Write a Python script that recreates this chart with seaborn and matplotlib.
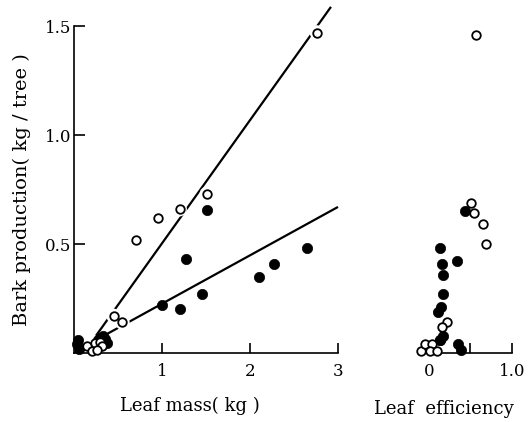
import numpy as np
import pandas as pd
import matplotlib
matplotlib.use("Agg")
import matplotlib.pyplot as plt
import seaborn as sns

# ---- data ----
# Left panel: leaf mass (kg) vs bark production (kg/tree)
open_mass = [2.76, 1.51, 1.20, 0.96, 0.71, 0.45, 0.55, 0.15, 0.20, 0.24, 0.30, 0.32, 0.26]
open_bark = [1.47, 0.73, 0.66, 0.62, 0.52, 0.17, 0.14, 0.03, 0.01, 0.045, 0.05, 0.03, 0.015]
filled_mass = [1.51, 1.27, 1.00, 1.20, 1.45, 2.10, 2.27, 2.65, 0.03, 0.06, 0.05, 0.30, 0.35, 0.37, 0.33, 0.27]
filled_bark = [0.655, 0.43, 0.22, 0.20, 0.27, 0.35, 0.41, 0.48, 0.04, 0.02, 0.06, 0.07, 0.065, 0.045, 0.08, 0.06]

# Right panel: leaf efficiency vs bark production
eff_open = [0.57, 0.51, 0.54, 0.65, 0.69, 0.22, 0.16, -0.09, -0.04, 0.04, 0.02, 0.10]
eff_open_bark = [1.46, 0.69, 0.64, 0.59, 0.50, 0.14, 0.12, 0.01, 0.04, 0.04, 0.01, 0.01]
eff_filled = [0.43, 0.14, 0.34, 0.16, 0.17, 0.17, 0.15, 0.11, 0.17, 0.14, 0.13, 0.35, 0.39]
eff_filled_bark = [0.65, 0.48, 0.42, 0.41, 0.36, 0.27, 0.21, 0.19, 0.08, 0.06, 0.06, 0.04, 0.015]

# Fitted lines (slope, intercept, x-range)
line_slopes = [0.565, 0.222]
line_intercepts = [-0.062, 0.004]
line_x_start = [0.25, 0.38]
line_x_end = [2.92, 3.0]

y_ticks = [0.5, 1.0, 1.5]
y_tick_labels = ["0.5", "1.0", "1.5"]
mass_ticks = [1, 2, 3]
mass_tick_labels = ["1", "2", "3"]
eff_ticks = [0, 0.5, 1.0]
eff_tick_labels = ["0", "", "1.0"]

# ---- styling ----
sns.set_theme(style="white")
plt.rcParams["font.family"] = ["DejaVu Serif"]
plt.rcParams["font.size"] = 12

fig = plt.figure(figsize=(5.30, 4.22), dpi=100)
ax1 = fig.add_axes([74 / 530, 69 / 422, 264 / 530, 327 / 422])
ax2 = fig.add_axes([418 / 530, 69 / 422, 94 / 530, 327 / 422], sharey=ax1)

df_open = pd.DataFrame({"mass": open_mass, "bark": open_bark})
df_filled = pd.DataFrame({"mass": filled_mass, "bark": filled_bark})
df_eo = pd.DataFrame({"eff": eff_open, "bark": eff_open_bark})
df_ef = pd.DataFrame({"eff": eff_filled, "bark": eff_filled_bark})

# regression lines
for k in range(2):
    xs = np.array([line_x_start[k], line_x_end[k]])
    ys = line_slopes[k] * xs + line_intercepts[k]
    ax1.plot(xs, ys, color="black", lw=1.6, clip_on=False, zorder=1,
             solid_capstyle="butt")

# white halos behind open circles (gaps in lines as in the print)
sns.scatterplot(data=df_open, x="mass", y="bark", ax=ax1, s=110, color="white",
                edgecolor="none", linewidth=0, zorder=2, clip_on=False, legend=False)
sns.scatterplot(data=df_filled, x="mass", y="bark", ax=ax1, s=55, color="black",
                edgecolor="black", linewidth=0.5, zorder=3, clip_on=False, legend=False)
sns.scatterplot(data=df_open, x="mass", y="bark", ax=ax1, s=38, color="white",
                edgecolor="black", linewidth=1.3, zorder=4, clip_on=False, legend=False)

sns.scatterplot(data=df_ef, x="eff", y="bark", ax=ax2, s=55, color="black",
                edgecolor="black", linewidth=0.5, zorder=3, clip_on=False, legend=False)
sns.scatterplot(data=df_eo, x="eff", y="bark", ax=ax2, s=38, color="white",
                edgecolor="black", linewidth=1.3, zorder=4, clip_on=False, legend=False)

# axes limits and ticks
ax1.set_xlim(0, 3)
ax1.set_ylim(0, 1.5)
ax2.set_xlim(-0.13, 1.0)

ax1.set_xticks(mass_ticks)
ax1.set_xticklabels(mass_tick_labels)
ax1.set_yticks(y_ticks)
ax1.set_yticklabels(y_tick_labels)
ax2.set_xticks(eff_ticks)
ax2.set_xticklabels(eff_tick_labels)

for ax in (ax1, ax2):
    for s in ("top", "right"):
        ax.spines[s].set_visible(False)
    ax.spines["bottom"].set_color("black")
    ax.spines["bottom"].set_linewidth(1.2)
    ax.tick_params(axis="x", direction="in", length=7, width=1.2, pad=7,
                   colors="black", labelsize=12, bottom=True)
ax1.spines["left"].set_color("black")
ax1.spines["left"].set_linewidth(1.2)
ax1.tick_params(axis="y", direction="in", length=8, width=1.2, pad=2,
                colors="black", labelsize=12, left=True)
ax2.spines["left"].set_visible(False)
ax2.tick_params(axis="y", left=False, labelleft=False)
ax2.set_ylabel("")

ax1.set_ylabel("Bark production( kg / tree )", fontsize=14, color="black")
ax1.yaxis.set_label_coords(-0.163, 0.5)
ax1.set_xlabel("Leaf mass( kg )", fontsize=13, color="black")
ax1.xaxis.set_label_coords(0.44, -0.135)
ax2.set_xlabel("Leaf  efficiency", fontsize=13, color="black")
ax2.xaxis.set_label_coords(0.28, -0.145)

for ax in (ax1, ax2):
    ax.set_facecolor("white")
    ax.grid(False)

fig.savefig("out.png", dpi=100, facecolor="white")
